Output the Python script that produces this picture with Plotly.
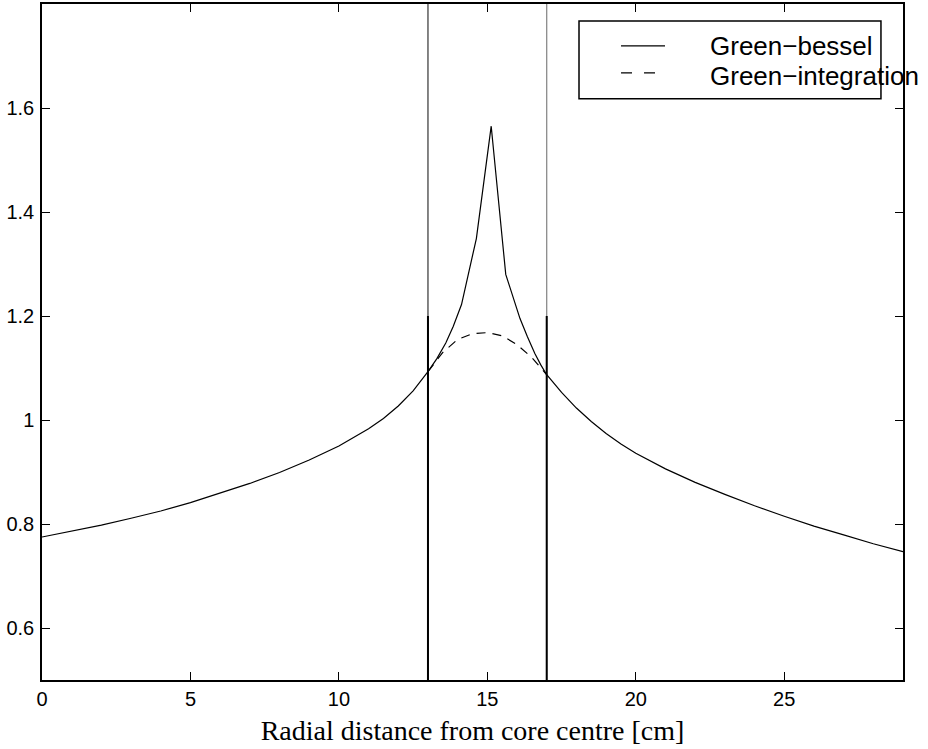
import plotly.graph_objects as go

# Green-bessel solution (solid)
bessel_x = [0, 1, 2, 3, 4, 5, 6, 7, 8, 9, 10, 11, 11.5, 12, 12.5, 13, 13.3, 13.6, 13.85,
            14.13, 14.63, 15.13, 15.62, 16.1, 16.35, 16.6, 16.8, 17, 17.5, 18, 18.5, 19,
            19.5, 20, 21, 22, 23, 24, 25, 26, 27, 28, 29]
bessel_y = [0.775, 0.786, 0.798, 0.811, 0.825, 0.841, 0.859, 0.878, 0.899, 0.923, 0.950,
            0.983, 1.003, 1.027, 1.056, 1.093, 1.118, 1.148, 1.180,
            1.222, 1.349, 1.565, 1.280, 1.195, 1.160, 1.128, 1.106, 1.087, 1.053, 1.023,
            0.997, 0.974, 0.954, 0.936, 0.906, 0.880, 0.857, 0.835, 0.815, 0.796, 0.779,
            0.762, 0.747]

# Green-integration solution (dashed), inside the core region
integ_x = [13, 13.5, 14, 14.5, 15, 15.5, 16, 16.5, 17]
integ_y = [1.093, 1.130, 1.155, 1.166, 1.168, 1.162, 1.145, 1.120, 1.087]

# core region boundaries
boundary_x = [13, 17]
boundary_mark_top = 1.2

x_ticks = [0, 5, 10, 15, 20, 25]
y_ticks = [0.6, 0.8, 1.0, 1.2, 1.4, 1.6]
y_tick_text = ["0.6", "0.8", "1", "1.2", "1.4", "1.6"]
x_range = [0, 29]
y_range = [0.5, 1.8]

fig = go.Figure()

for bx, col in zip(boundary_x, ["#333333", "#808080"]):
    fig.add_trace(go.Scatter(x=[bx, bx], y=y_range, mode="lines",
                             line=dict(color=col, width=1.2), showlegend=False, hoverinfo="skip"))
    fig.add_trace(go.Scatter(x=[bx, bx], y=[y_range[0], boundary_mark_top], mode="lines",
                             line=dict(color="black", width=2), showlegend=False, hoverinfo="skip"))

fig.add_trace(go.Scatter(x=bessel_x, y=bessel_y, mode="lines", name="Green−bessel",
                         line=dict(color="black", width=1.2), showlegend=False))
fig.add_trace(go.Scatter(x=integ_x, y=integ_y, mode="lines", name="Green−integration",
                         line=dict(color="black", width=1.2, dash="9px,7px"), showlegend=False))

# custom legend (box, samples, labels)
lx0, lx1, ly0, ly1 = 0.6237, 0.9744, 0.8599, 0.975
fig.add_shape(type="rect", xref="paper", yref="paper", x0=lx0, x1=lx1, y0=ly0, y1=ly1,
              line=dict(color="black", width=1.5), fillcolor="white", layer="above")
fig.add_shape(type="line", xref="paper", yref="paper", x0=0.6725, x1=0.7236, y0=0.938, y1=0.938,
              line=dict(color="black", width=1.2), layer="above")
fig.add_shape(type="line", xref="paper", yref="paper", x0=0.6725, x1=0.7236, y0=0.898, y1=0.898,
              line=dict(color="black", width=1.2, dash="11px,12px"), layer="above")
for txt, yy in [("Green−bessel", 0.938), ("Green−integration", 0.894)]:
    fig.add_annotation(text=txt, xref="paper", yref="paper", x=0.7735, y=yy,
                       xanchor="left", yanchor="middle", showarrow=False,
                       font=dict(family="Liberation Sans, Arial", size=26, color="black"))

axis_common = dict(showgrid=False, zeroline=False, showline=True, linecolor="black", linewidth=1.5,
                   mirror="ticks", ticks="inside", ticklen=8, tickcolor="black", tickwidth=1,
                   tickfont=dict(family="Liberation Sans, Arial", size=20, color="black"))

fig.update_xaxes(range=x_range, tickvals=x_ticks, ticktext=[str(v) for v in x_ticks],
                 title=dict(text="Radial distance from core centre [cm]",
                            font=dict(family="Liberation Serif, Times New Roman", size=28, color="black"),
                            standoff=12),
                 **axis_common)
fig.update_yaxes(range=y_range, tickvals=y_ticks, ticktext=y_tick_text, ticklabelstandoff=2,
                 **axis_common)

fig.update_layout(width=928, height=749, margin=dict(l=42, r=25, t=2, b=69),
                  plot_bgcolor="white", paper_bgcolor="white", showlegend=False)

fig.write_html("out.html")
